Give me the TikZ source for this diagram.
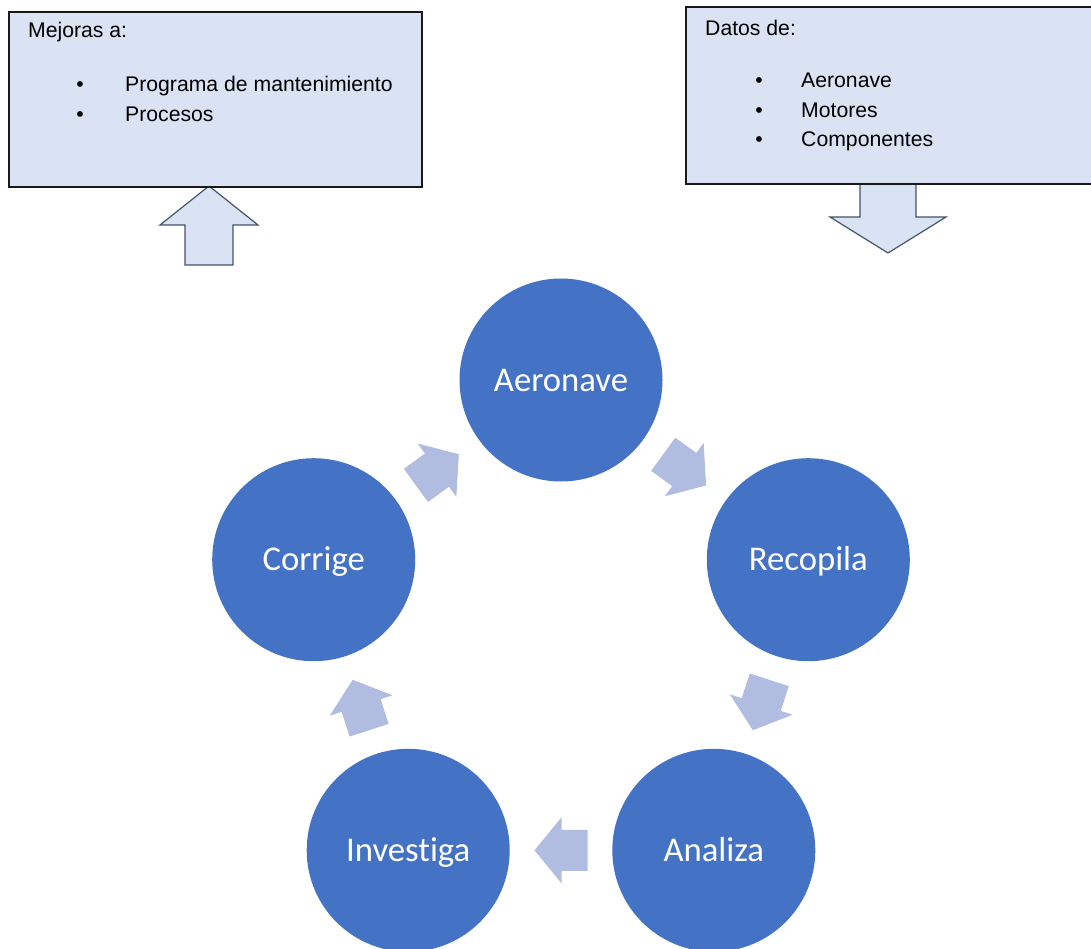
\documentclass[tikz,border=0pt]{standalone}
\usepackage{fontspec}
\setmainfont{Liberation Sans}
\newfontfamily\calibrifam[Ligatures=NoCommon]{Carlito}
\usetikzlibrary{calc}
\definecolor{boxfill}{HTML}{DAE3F3}
\definecolor{cyclefill}{HTML}{4472C4}
\definecolor{cyclearrowfill}{HTML}{B0BDE0}
\definecolor{blockline}{HTML}{44546A}

\begin{document}
\begin{tikzpicture}[x=1pt,y=-1pt,
  infobox/.style={draw=black!90, line width=1.6pt, fill=boxfill, rectangle, inner sep=0pt, anchor=north west},
  boxtext/.style={anchor=base west, inner sep=0pt, font=\fontsize{21.2}{25}\selectfont, text=black},
  bulletmark/.style={anchor=base, inner sep=0pt, font=\fontsize{21.2}{25}\selectfont, text=black},
  stage/.style={circle, fill=cyclefill, minimum size=203pt, inner sep=0pt, text=white,
    font=\calibrifam\fontsize{34.7}{40}\selectfont, text height=22pt, text depth=0pt},
  blockarrow/.style={fill=boxfill, draw=blockline, line width=1.2pt, line join=miter},
  cyclearrow/.style={fill=cyclearrowfill}
]
\useasboundingbox (0,0) rectangle (1091,949);
\clip (0,0) rectangle (1091,949);

% hollow block arrows attached to the two information boxes
\coordinate (uptip) at (209,186);
\coordinate (downtip) at (888,253);
\draw[blockarrow, shift={(uptip)}]
  (0,0) -- (49,39) -- (24,39) -- (24,79) -- (-24,79) -- (-24,39) -- (-49,39) -- cycle;
\draw[blockarrow, shift={(downtip)}]
  (0,0) -- (58,-36) -- (28,-36) -- (28,-70) -- (-28,-70) -- (-28,-36) -- (-58,-36) -- cycle;

% information boxes
\node[infobox, minimum width=413pt, minimum height=175pt] (mejoras) at (8,11) {};
\node[infobox, minimum width=420pt, minimum height=177pt] (datos) at (685,6) {};

\node[boxtext] (mejtitle) at (28,38) {Mejoras a:};
\node[bulletmark] (mb1) at (80,92) {•};
\node[boxtext] (mi1) at (125,92) {Programa de mantenimiento};
\node[bulletmark] (mb2) at (80,122) {•};
\node[boxtext] (mi2) at (125,122) {Procesos};

\node[boxtext] (dattitle) at (705,36) {Datos de:};
\node[bulletmark] (db1) at (759,88) {•};
\node[boxtext] (di1) at (801,88) {Aeronave};
\node[bulletmark] (db2) at (759,118) {•};
\node[boxtext] (di2) at (801,118) {Motores};
\node[bulletmark] (db3) at (759,147) {•};
\node[boxtext] (di3) at (801,147) {Componentes};

% the five stages of the cycle
\node[stage] (aer) at (561,380) {Aeronave};
\node[stage] (rec) at (808.3,559.7) {Recopila};
\node[stage] (ana) at (713.8,850.3) {Analiza};
\node[stage] (inv) at (408.2,850.3) {Investiga};
\node[stage] (cor) at (313.7,559.7) {Corrige};

% block arrows between consecutive stages
\coordinate (m1) at ($(aer)!0.5!(rec)$);
\coordinate (m2) at ($(rec)!0.5!(ana)$);
\coordinate (m3) at ($(ana)!0.5!(inv)$);
\coordinate (m4) at ($(inv)!0.5!(cor)$);
\coordinate (m5) at ($(cor)!0.5!(aer)$);
\foreach \m/\ang in {m1/-36, m2/-108, m3/180, m4/108, m5/36}{
  \fill[cyclearrow, shift={(\m)}, rotate=\ang]
    (-26.5,-20.5) -- (-0.5,-20.5) -- (-0.5,-33) -- (26.5,0) -- (-0.5,33) -- (-0.5,20.5) -- (-26.5,20.5) -- cycle;
}
\end{tikzpicture}
\end{document}
